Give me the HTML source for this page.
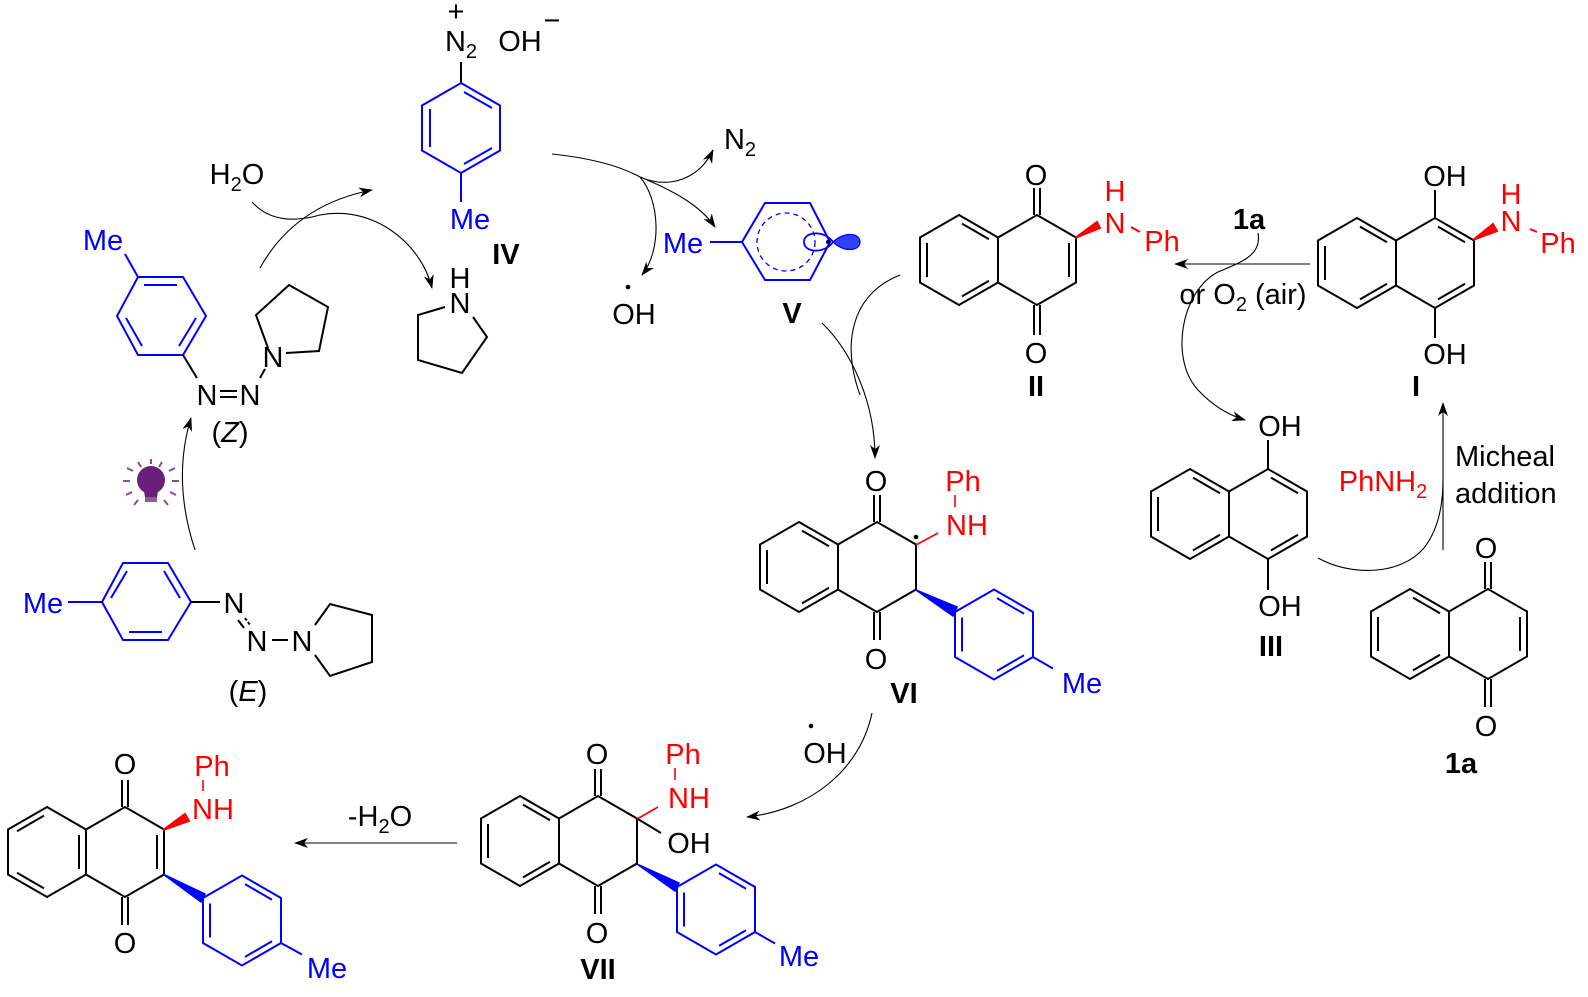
<!DOCTYPE html>
<html><head><meta charset="utf-8"><style>
html,body{margin:0;padding:0;background:#fff;}
svg{display:block;font-family:"Liberation Sans",sans-serif;}
.k{stroke:#000;stroke-width:2;fill:none;stroke-linejoin:miter;}
.b{stroke:#0000ff;stroke-width:2;fill:none;}
.a{stroke:#000;stroke-width:1.1;fill:none;}
text{font-size:29px;text-anchor:middle;}
.bl{fill:#0000ff;} .rd{fill:#ff0000;} .bd{font-weight:bold;}
</style></head><body>
<svg width="1588" height="997" viewBox="0 0 1588 997" xmlns="http://www.w3.org/2000/svg">
<defs>
<marker id="ar" viewBox="0 0 14 10" refX="13" refY="5" markerWidth="14" markerHeight="10" markerUnits="userSpaceOnUse" orient="auto">
<path d="M0,0 L14,5 L0,10 L4,5 Z" fill="#000"/></marker>
</defs>

<!-- ===== (Z) triazene ===== -->
<path class="b" d="M138,277L183,277L206,316L183,355L138,355L117,316Z M144,285L177,285 M126,318L142,346 M179,346L196,318 M138,277L125,254"/>
<text x="103" y="250" class="bl">Me</text>
<path class="k" d="M183,355L197,378"/>
<text x="207" y="405">N</text>
<path class="k" d="M220,391L237,391 M220,397L237,397"/>
<text x="250" y="405">N</text>
<path class="k" d="M260,378L265,369"/>
<text x="273" y="367">N</text>
<path class="k" d="M268,348L256,315L289,285L328,307L319,351L286,353"/>
<text x="230" y="442">(<tspan font-style="italic">Z</tspan>)</text>

<!-- bulb -->
<g>
<circle cx="151" cy="480" r="14" fill="#6b1f7b"/>
<path d="M143,486 L159,486 L157,497 L145,497 Z" fill="#6b1f7b"/>
<rect x="145" y="497" width="12" height="5" fill="#8a5a94"/>
<g stroke="#8a4a98" stroke-width="2">
<line x1="123" y1="481" x2="130" y2="481"/><line x1="172" y1="481" x2="179" y2="481"/>
<line x1="127" y1="468" x2="133" y2="471"/><line x1="175" y1="468" x2="169" y2="471"/>
<line x1="138" y1="462" x2="141" y2="467"/><line x1="162" y1="462" x2="159" y2="467"/>
<line x1="151" y1="459" x2="151" y2="464"/>
<line x1="126" y1="495" x2="132" y2="492"/><line x1="176" y1="495" x2="170" y2="492"/>
<line x1="134" y1="505" x2="138" y2="500"/><line x1="168" y1="505" x2="164" y2="500"/>
</g></g>

<!-- ===== (E) triazene ===== -->
<path class="b" d="M123,563L168,563L191,602L168,640L123,640L102,602Z M111,598L127,571 M164,571L180,598 M129,632L162,632 M68,602L102,602"/>
<text x="43" y="613" class="bl">Me</text>
<path class="k" d="M191,602L220,602"/>
<text x="234" y="613">N</text>
<path class="k" d="M245,618L250,625" stroke-dasharray="3,2"/>
<path class="k" d="M238,620L244,628" />
<text x="257" y="651">N</text>
<path class="k" d="M272,640L288,640"/>
<text x="302" y="651">N</text>
<path class="k" d="M315,625L330,604L372,615L372,662L330,676L315,655"/>
<text x="248" y="701">(<tspan font-style="italic">E</tspan>)</text>

<!-- ===== H2O, pyrrolidine ===== -->
<text x="237" y="184">H<tspan font-size="20" dy="7">2</tspan><tspan dy="-7">O</tspan></text>
<text x="460" y="288">H</text>
<text x="460" y="313">N</text>
<path class="k" d="M445,307L418,315L418,360L462,373L487,337L473,317"/>

<!-- ===== IV ===== -->
<text x="456" y="21" font-size="18">+</text>
<text x="461" y="51">N<tspan font-size="20" dy="7">2</tspan></text>
<text x="520" y="51">OH</text>
<text x="552" y="30" font-size="20">−</text>
<path class="k" d="M461,83L461,62"/>
<path class="b" d="M461,83L500,105.5L500,150.5L461,173L422,150.5L422,105.5Z M464,92L492,108 M430,109L430,147 M464,164L492,148 M461,173L461,202"/>
<text x="470" y="229" class="bl">Me</text>
<text x="506" y="264" class="bd">IV</text>

<!-- ===== N2 / OH / V ===== -->
<text x="740" y="149">N<tspan font-size="20" dy="7">2</tspan></text>
<circle cx="628" cy="287" r="2.3" fill="#000"/>
<text x="634" y="324">OH</text>
<path class="b" d="M765,203L810,203L830,242L810,280L765,280L742,242Z M710,242L742,242"/>
<circle cx="786" cy="242" r="29" fill="none" stroke="#0000ff" stroke-width="1.3" stroke-dasharray="5,4"/>
<path d="M833,242 C825,230 804,231 804,242 C804,253 825,254 833,242 Z" fill="none" stroke="#0000ff" stroke-width="1.8"/>
<path d="M833,242 C845,231 860,233 860,242 C860,251 845,253 833,242 Z" fill="#3040ff" stroke="#0000ff" stroke-width="1.2"/>
<circle cx="828" cy="242" r="2" fill="#000"/>
<text x="683" y="253" class="bl">Me</text>
<text x="792" y="323" class="bd">V</text>

<!-- ===== II ===== -->
<g transform="translate(959,260)">
<path class="k" d="M0,-45L39,-22.5L39,22.5L0,45L-39,22.5L-39,-22.5Z M39,-22.5L78,-45L117,-22.5L117,22.5L78,45L39,22.5 M-32,-17L-32,17 M3,-36.4L30,-20.7 M3,36.4L30,20.7 M110,-17L110,17 M75,-45L75,-72 M81,-45L81,-72 M75,45L75,75 M81,45L81,75"/>
</g>
<text x="1036" y="185">O</text>
<text x="1036" y="363">O</text>
<text x="1036" y="396" class="bd">II</text>
<path d="M1075,238L1097,222L1100,228Z" fill="#ff0000" stroke="#ff0000" stroke-width="2"/>
<text x="1115" y="201" class="rd">H</text>
<text x="1115" y="233" class="rd">N</text>
<path d="M1131,227L1140,232" stroke="#ff0000" stroke-width="2"/>
<text x="1162" y="251" class="rd">Ph</text>

<!-- ===== I ===== -->
<g transform="translate(1357,263)">
<path class="k" d="M0,-45L39,-22.5L39,22.5L0,45L-39,22.5L-39,-22.5Z M39,-22.5L78,-45L117,-22.5L117,22.5L78,45L39,22.5 M-32,-17L-32,17 M3,-36.4L30,-20.7 M3,36.4L30,20.7 M81,-36.4L108,-20.7 M81,36.4L108,20.7 M78,-45L78,-73 M78,45L78,75"/>
</g>
<text x="1445" y="186">OH</text>
<text x="1445" y="364">OH</text>
<text x="1416" y="396" class="bd">I</text>
<path d="M1473,240L1493,224L1497,231Z" fill="#ff0000" stroke="#ff0000" stroke-width="2"/>
<text x="1511" y="204" class="rd">H</text>
<text x="1511" y="231" class="rd">N</text>
<path d="M1530,229L1537,232" stroke="#ff0000" stroke-width="2"/>
<text x="1558" y="253" class="rd">Ph</text>

<!-- arrow I -> II -->
<path class="a" d="M1310,264L1175,264" marker-end="url(#ar)"/>
<text x="1249" y="229" class="bd">1a</text>
<text x="1243" y="304">or O<tspan font-size="20" dy="7">2</tspan><tspan dy="-7"> (air)</tspan></text>
<path class="a" d="M1258,233 C1262,255 1242,262 1218,272 C1180,292 1170,360 1198,390 C1212,405 1228,415 1245,420" marker-end="url(#ar)"/>

<!-- ===== III ===== -->
<g transform="translate(1190,514)">
<path class="k" d="M0,-45L39,-22.5L39,22.5L0,45L-39,22.5L-39,-22.5Z M39,-22.5L78,-45L117,-22.5L117,22.5L78,45L39,22.5 M-32,-17L-32,17 M3,-36.4L30,-20.7 M3,36.4L30,20.7 M81,-36.4L108,-20.7 M81,36.4L108,20.7 M78,-45L78,-74 M78,45L78,76"/>
</g>
<text x="1280" y="436">OH</text>
<text x="1280" y="616">OH</text>
<text x="1271" y="656" class="bd">III</text>

<!-- PhNH2 / Micheal -->
<path class="a" d="M1318,558 C1350,576 1400,576 1424,548 C1438,530 1443,505 1443,480"/>
<path class="a" d="M1443,550L1443,403" marker-end="url(#ar)"/>
<text x="1383" y="491" class="rd">PhNH<tspan font-size="20" dy="7">2</tspan></text>
<text x="1455" y="466" style="text-anchor:start">Micheal</text>
<text x="1455" y="503" style="text-anchor:start">addition</text>

<!-- ===== 1a ===== -->
<g transform="translate(1410,634)">
<path class="k" d="M0,-45L39,-22.5L39,22.5L0,45L-39,22.5L-39,-22.5Z M39,-22.5L78,-45L117,-22.5L117,22.5L78,45L39,22.5 M-32,-17L-32,17 M3,-36.4L30,-20.7 M3,36.4L30,20.7 M110,-17L110,17 M75,-45L75,-72 M81,-45L81,-72 M75,45L75,73 M81,45L81,73"/>
</g>
<text x="1486" y="558">O</text>
<text x="1486" y="736">O</text>
<text x="1461" y="773" class="bd">1a</text>

<!-- arrows to VI -->
<path class="a" d="M822,323 C850,350 875,400 875,458" marker-end="url(#ar)"/>
<path class="a" d="M900,275 C850,295 842,345 860,395"/>

<!-- ===== VI ===== -->
<g transform="translate(799,567)">
<path class="k" d="M0,-45L39,-22.5L39,22.5L0,45L-39,22.5L-39,-22.5Z M39,-22.5L78,-45L117,-22.5L117,22.5L78,45L39,22.5 M-32,-17L-32,17 M3,-36.4L30,-20.7 M3,36.4L30,20.7 M75,-45L75,-72 M81,-45L81,-72 M75,45L75,73 M81,45L81,73"/>
</g>
<text x="876" y="491">O</text>
<text x="876" y="669">O</text>
<text x="904" y="703" class="bd">VI</text>
<circle cx="916" cy="537" r="2.3" fill="#000"/>
<path d="M916,545L938,533" stroke="#ff0000" stroke-width="1.6"/>
<text x="967" y="535" class="rd">NH</text>
<path d="M955,495L955,507" stroke="#ff0000" stroke-width="1.6"/>
<text x="963" y="491" class="rd">Ph</text>
<path d="M916,590L957,607L953,616Z" fill="#0000ff" stroke="#0000ff" stroke-width="1.5"/>
<g transform="translate(994,634.5)">
<path class="b" d="M0,-45L39,-22.5L39,22.5L0,45L-39,22.5L-39,-22.5Z M-32,-17L-32,17 M3,-36.4L30,-20.7 M3,36.4L30,20.7 M39,22.5L59,34"/>
</g>
<text x="1082" y="693" class="bl">Me</text>

<!-- VI -> VII -->
<path class="a" d="M872,713 C860,770 810,810 747,817" marker-end="url(#ar)"/>
<circle cx="811" cy="726" r="2.3" fill="#000"/>
<text x="825" y="763">OH</text>

<!-- ===== VII ===== -->
<g transform="translate(520,841)">
<path class="k" d="M0,-45L39,-22.5L39,22.5L0,45L-39,22.5L-39,-22.5Z M39,-22.5L78,-45L117,-22.5L117,22.5L78,45L39,22.5 M-32,-17L-32,17 M3,-36.4L30,-20.7 M3,36.4L30,20.7 M75,-45L75,-72 M81,-45L81,-72 M75,45L75,73 M81,45L81,73 M117,-22.5L141,-8"/>
</g>
<text x="597" y="764">O</text>
<text x="597" y="943">O</text>
<text x="598" y="979" class="bd">VII</text>
<path d="M637,819L658,807" stroke="#ff0000" stroke-width="1.6"/>
<text x="689" y="808" class="rd">NH</text>
<path d="M675,768L675,780" stroke="#ff0000" stroke-width="1.6"/>
<text x="683" y="764" class="rd">Ph</text>
<text x="689" y="853">OH</text>
<path d="M637,864L679,883L675,891Z" fill="#0000ff" stroke="#0000ff" stroke-width="1.5"/>
<g transform="translate(716,909.5)">
<path class="b" d="M0,-45L39,-22.5L39,22.5L0,45L-39,22.5L-39,-22.5Z M-32,-17L-32,17 M3,-36.4L30,-20.7 M3,36.4L30,20.7 M39,22.5L59,34"/>
</g>
<text x="799" y="966" class="bl">Me</text>

<!-- VII -> product -->
<path class="a" d="M457,843L295,843" marker-end="url(#ar)"/>
<text x="380" y="826">-H<tspan font-size="20" dy="7">2</tspan><tspan dy="-7">O</tspan></text>

<!-- ===== product ===== -->
<g transform="translate(47,852)">
<path class="k" d="M0,-45L39,-22.5L39,22.5L0,45L-39,22.5L-39,-22.5Z M39,-22.5L78,-45L117,-22.5L117,22.5L78,45L39,22.5 M32,-17L32,17 M-3,-36.4L-30,-20.7 M-3,36.4L-30,20.7 M110,-17L110,17 M75,-45L75,-72 M81,-45L81,-72 M75,45L75,73 M81,45L81,73"/>
</g>
<text x="125" y="774">O</text>
<text x="125" y="953">O</text>
<path d="M163,830L185,814L189,821Z" fill="#ff0000" stroke="#ff0000" stroke-width="2"/>
<text x="213" y="819" class="rd">NH</text>
<path d="M203,780L203,791" stroke="#ff0000" stroke-width="1.6"/>
<text x="212" y="776" class="rd">Ph</text>
<path d="M163,874L205,894L201,902Z" fill="#0000ff" stroke="#0000ff" stroke-width="1.5"/>
<g transform="translate(242,920.5)">
<path class="b" d="M0,-45L39,-22.5L39,22.5L0,45L-39,22.5L-39,-22.5Z M-32,-17L-32,17 M3,-36.4L30,-20.7 M3,36.4L30,20.7 M39,22.5L60,34"/>
</g>
<text x="327" y="978" class="bl">Me</text>

<!-- cycle arrows top-left -->
<path class="a" d="M195,550 Q172,480 191,418" marker-end="url(#ar)"/>
<path class="a" d="M260,268 Q295,205 372,190" marker-end="url(#ar)"/>
<path class="a" d="M252,202 C270,222 295,222 320,215 C370,205 420,240 432,288" marker-end="url(#ar)"/>
<!-- IV branching -->
<path class="a" d="M552,154 C590,158 620,166 640,177"/>
<path class="a" d="M640,177 C670,190 700,178 713,150" marker-end="url(#ar)"/>
<path class="a" d="M640,177 C672,190 700,205 715,227" marker-end="url(#ar)"/>
<path class="a" d="M640,177 C660,200 662,250 642,275" marker-end="url(#ar)"/>
</svg>
</body></html>
